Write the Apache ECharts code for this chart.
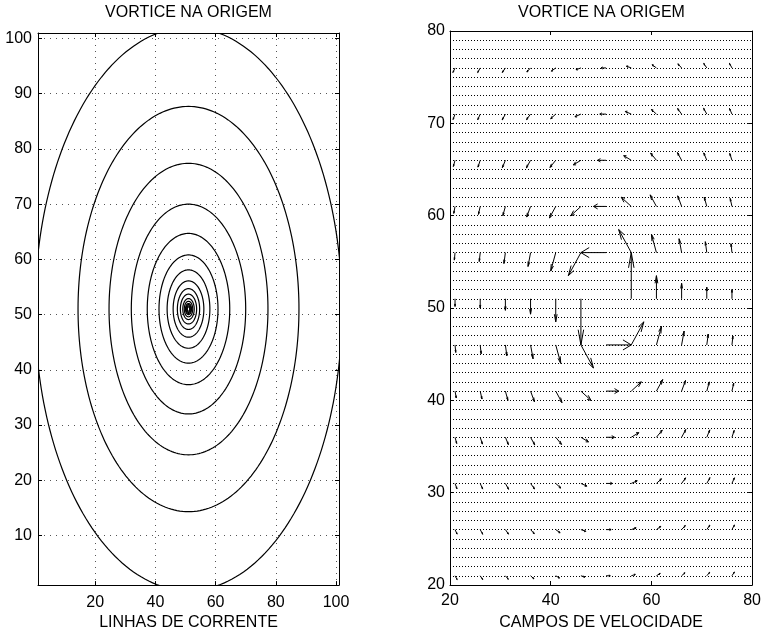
<!DOCTYPE html>
<html>
<head>
<meta charset="utf-8">
<script src="https://cdn.jsdelivr.net/npm/echarts@6/dist/echarts.min.js"></script>
<style>
  html, body { margin: 0; padding: 0; background: #fff; }
  #chart { width: 764px; height: 636px; }
</style>
</head>
<body>
<div id="chart"></div>
<script>
// left panel: streamlines (circles round the vortex)
const vortexCenter = [51, 51]
const contourRadius = [51, 36.7, 26.4, 19.0, 13.7, 9.8, 7.1, 5.1, 3.7, 2.7, 1.9, 1.4, 1.0, 0.8, 0.6, 0.4]
const leftXTicks = [20, 40, 60, 80, 100]
const leftYTicks = [10, 20, 30, 40, 50, 60, 70, 80, 90, 100]

// right panel: velocity arrows on a 12 x 12 grid (rows bottom -> top)
const quiverX = [21, 26, 31, 36, 41, 46, 51, 56, 61, 66, 71, 76]
const quiverY = [21, 26, 31, 36, 41, 46, 51, 56, 61, 66, 71, 76]
const quiverU = [
  [0.42, 0.49, 0.58, 0.67, 0.75, 0.81, 0.83, 0.81, 0.75, 0.67, 0.58, 0.49],
  [0.41, 0.5, 0.61, 0.74, 0.86, 0.96, 1.0, 0.96, 0.86, 0.74, 0.61, 0.5],
  [0.38, 0.49, 0.63, 0.8, 1.0, 1.18, 1.25, 1.18, 1.0, 0.8, 0.63, 0.49],
  [0.33, 0.44, 0.6, 0.83, 1.15, 1.5, 1.67, 1.5, 1.15, 0.83, 0.6, 0.44],
  [0.25, 0.35, 0.5, 0.77, 1.25, 2.0, 2.5, 2.0, 1.25, 0.77, 0.5, 0.35],
  [0.14, 0.19, 0.29, 0.5, 1.0, 2.5, 5.0, 2.5, 1.0, 0.5, 0.29, 0.19],
  [0, 0, 0, 0, 0, 0, null, 0, 0, 0, 0, 0],
  [-0.14, -0.19, -0.29, -0.5, -1.0, -2.5, -5.0, -2.5, -1.0, -0.5, -0.29, -0.19],
  [-0.25, -0.35, -0.5, -0.77, -1.25, -2.0, -2.5, -2.0, -1.25, -0.77, -0.5, -0.35],
  [-0.33, -0.44, -0.6, -0.83, -1.15, -1.5, -1.67, -1.5, -1.15, -0.83, -0.6, -0.44],
  [-0.38, -0.49, -0.63, -0.8, -1.0, -1.18, -1.25, -1.18, -1.0, -0.8, -0.63, -0.49],
  [-0.41, -0.5, -0.61, -0.74, -0.86, -0.96, -1.0, -0.96, -0.86, -0.74, -0.61, -0.5]
]
const quiverV = [
  [-0.42, -0.41, -0.38, -0.33, -0.25, -0.14, 0, 0.14, 0.25, 0.33, 0.38, 0.41],
  [-0.49, -0.5, -0.49, -0.44, -0.35, -0.19, 0, 0.19, 0.35, 0.44, 0.49, 0.5],
  [-0.58, -0.61, -0.63, -0.6, -0.5, -0.29, 0, 0.29, 0.5, 0.6, 0.63, 0.61],
  [-0.67, -0.74, -0.8, -0.83, -0.77, -0.5, 0, 0.5, 0.77, 0.83, 0.8, 0.74],
  [-0.75, -0.86, -1.0, -1.15, -1.25, -1.0, 0, 1.0, 1.25, 1.15, 1.0, 0.86],
  [-0.81, -0.96, -1.18, -1.5, -2.0, -2.5, 0, 2.5, 2.0, 1.5, 1.18, 0.96],
  [-0.83, -1.0, -1.25, -1.67, -2.5, -5.0, null, 5.0, 2.5, 1.67, 1.25, 1.0],
  [-0.81, -0.96, -1.18, -1.5, -2.0, -2.5, 0, 2.5, 2.0, 1.5, 1.18, 0.96],
  [-0.75, -0.86, -1.0, -1.15, -1.25, -1.0, 0, 1.0, 1.25, 1.15, 1.0, 0.86],
  [-0.67, -0.74, -0.8, -0.83, -0.77, -0.5, 0, 0.5, 0.77, 0.83, 0.8, 0.74],
  [-0.58, -0.61, -0.63, -0.6, -0.5, -0.29, 0, 0.29, 0.5, 0.6, 0.63, 0.61],
  [-0.49, -0.5, -0.49, -0.44, -0.35, -0.19, 0, 0.19, 0.35, 0.44, 0.49, 0.5]
]

const FONT = "'Liberation Sans', Arial, Helvetica, sans-serif"
const textStyle = { fontFamily: FONT, fontSize: 16, color: '#000' }
const axisLine = { show: true, onZero: false, lineStyle: { color: '#000', width: 1 } }
const tickStyle = { show: true, inside: true, length: 4, lineStyle: { color: '#000', width: 1 } }
const gridDots = { show: true, lineStyle: { color: '#555', width: 1, type: [1, 5] } }
const rowDots = { show: true, lineStyle: { color: '#000', width: 1, type: [1, 2] } }

const arrowData = []
quiverY.forEach((y, i) => {
  quiverX.forEach((x, j) => {
    if (quiverU[i][j] === null || quiverV[i][j] === null) return
    arrowData.push([x, y, quiverU[i][j], quiverV[i][j]])
  })
})

const renderRing = (params, api) => {
  const r = api.value(0)
  const pts = []
  for (let k = 0; k <= 240; k++) {
    const t = k / 240 * 2 * Math.PI
    pts.push(api.coord([vortexCenter[0] + r * Math.cos(t), vortexCenter[1] + r * Math.sin(t)]))
  }
  return {
    type: 'polyline',
    shape: { points: pts },
    style: { stroke: '#000', lineWidth: 1.2, fill: null }
  }
}

// arrow head like matlab quiver (alpha = beta = 0.33, in data units)
const renderArrow = (params, api) => {
  const x = api.value(0)
  const y = api.value(1)
  const u = api.value(2)
  const v = api.value(3)
  const a = 0.33
  const b = 0.33
  const tail = api.coord([x, y])
  const tip = api.coord([x + u, y + v])
  const h1 = api.coord([x + u - a * (u + b * v), y + v - a * (v - b * u)])
  const h2 = api.coord([x + u - a * (u - b * v), y + v - a * (v + b * u)])
  const style = { stroke: '#000', lineWidth: 1, fill: null }
  return {
    type: 'group',
    children: [
      { type: 'line', shape: { x1: tail[0], y1: tail[1], x2: tip[0], y2: tip[1] }, style },
      { type: 'polyline', shape: { points: [h1, tip, h2] }, style }
    ]
  }
}

const chart = echarts.init(document.getElementById('chart'), null, { renderer: 'canvas' })

const option = {
  animation: false,
  backgroundColor: '#fff',
  title: [
    { text: 'VORTICE NA ORIGEM', left: 188.5, top: 5, textAlign: 'center', padding: 0,
      textStyle: { ...textStyle, fontWeight: 'normal' } },
    { text: 'VORTICE NA ORIGEM', left: 601.5, top: 5, textAlign: 'center', padding: 0,
      textStyle: { ...textStyle, fontWeight: 'normal' } }
  ],
  grid: [
    { left: 38, top: 33, width: 301, height: 560, show: false },
    { left: 450, top: 31, width: 303, height: 562, show: false }
  ],
  xAxis: [
    {
      gridIndex: 0, type: 'value', min: 1, max: 101, position: 'bottom',
      name: 'LINHAS DE CORRENTE', nameLocation: 'middle', nameGap: 28, nameTextStyle: textStyle,
      axisLine,
      axisTick: { ...tickStyle, customValues: leftXTicks },
      axisLabel: { ...textStyle, margin: 9, customValues: leftXTicks },
      splitLine: gridDots
    },
    {
      gridIndex: 0, type: 'value', min: 1, max: 101, position: 'top',
      axisLine,
      axisTick: { ...tickStyle, customValues: leftXTicks },
      axisLabel: { show: false },
      splitLine: { show: false }
    },
    {
      gridIndex: 1, type: 'value', min: 20, max: 80, interval: 20, position: 'bottom',
      name: 'CAMPOS DE VELOCIDADE', nameLocation: 'middle', nameGap: 30, nameTextStyle: textStyle,
      axisLine,
      axisTick: tickStyle,
      axisLabel: { ...textStyle, margin: 8 },
      splitLine: { show: false }
    },
    {
      gridIndex: 1, type: 'value', min: 20, max: 80, interval: 20, position: 'top',
      axisLine,
      axisTick: tickStyle,
      axisLabel: { show: false },
      splitLine: { show: false }
    }
  ],
  yAxis: [
    {
      gridIndex: 0, type: 'value', min: 1, max: 101, position: 'left',
      axisLine,
      axisTick: { ...tickStyle, customValues: leftYTicks },
      axisLabel: { ...textStyle, margin: 6, customValues: leftYTicks },
      splitLine: gridDots
    },
    {
      gridIndex: 0, type: 'value', min: 1, max: 101, position: 'right',
      axisLine,
      axisTick: { ...tickStyle, customValues: leftYTicks },
      axisLabel: { show: false },
      splitLine: { show: false }
    },
    {
      gridIndex: 1, type: 'value', min: 20, max: 80, interval: 10, position: 'left',
      axisLine,
      axisTick: tickStyle,
      axisLabel: { ...textStyle, margin: 5 },
      splitLine: rowDots,
      minorTick: { show: false, splitNumber: 10 },
      minorSplitLine: rowDots
    },
    {
      gridIndex: 1, type: 'value', min: 20, max: 80, interval: 10, position: 'right',
      axisLine,
      axisTick: tickStyle,
      axisLabel: { show: false },
      splitLine: { show: false }
    }
  ],
  series: [
    {
      name: 'linhas',
      type: 'custom',
      xAxisIndex: 0,
      yAxisIndex: 0,
      clip: true,
      silent: true,
      data: contourRadius.map(r => [r]),
      renderItem: renderRing
    },
    {
      name: 'velocidade',
      type: 'custom',
      xAxisIndex: 2,
      yAxisIndex: 2,
      clip: true,
      silent: true,
      encode: { x: 0, y: 1 },
      data: arrowData,
      renderItem: renderArrow
    }
  ]
}

chart.setOption(option)
</script>
</body>
</html>
